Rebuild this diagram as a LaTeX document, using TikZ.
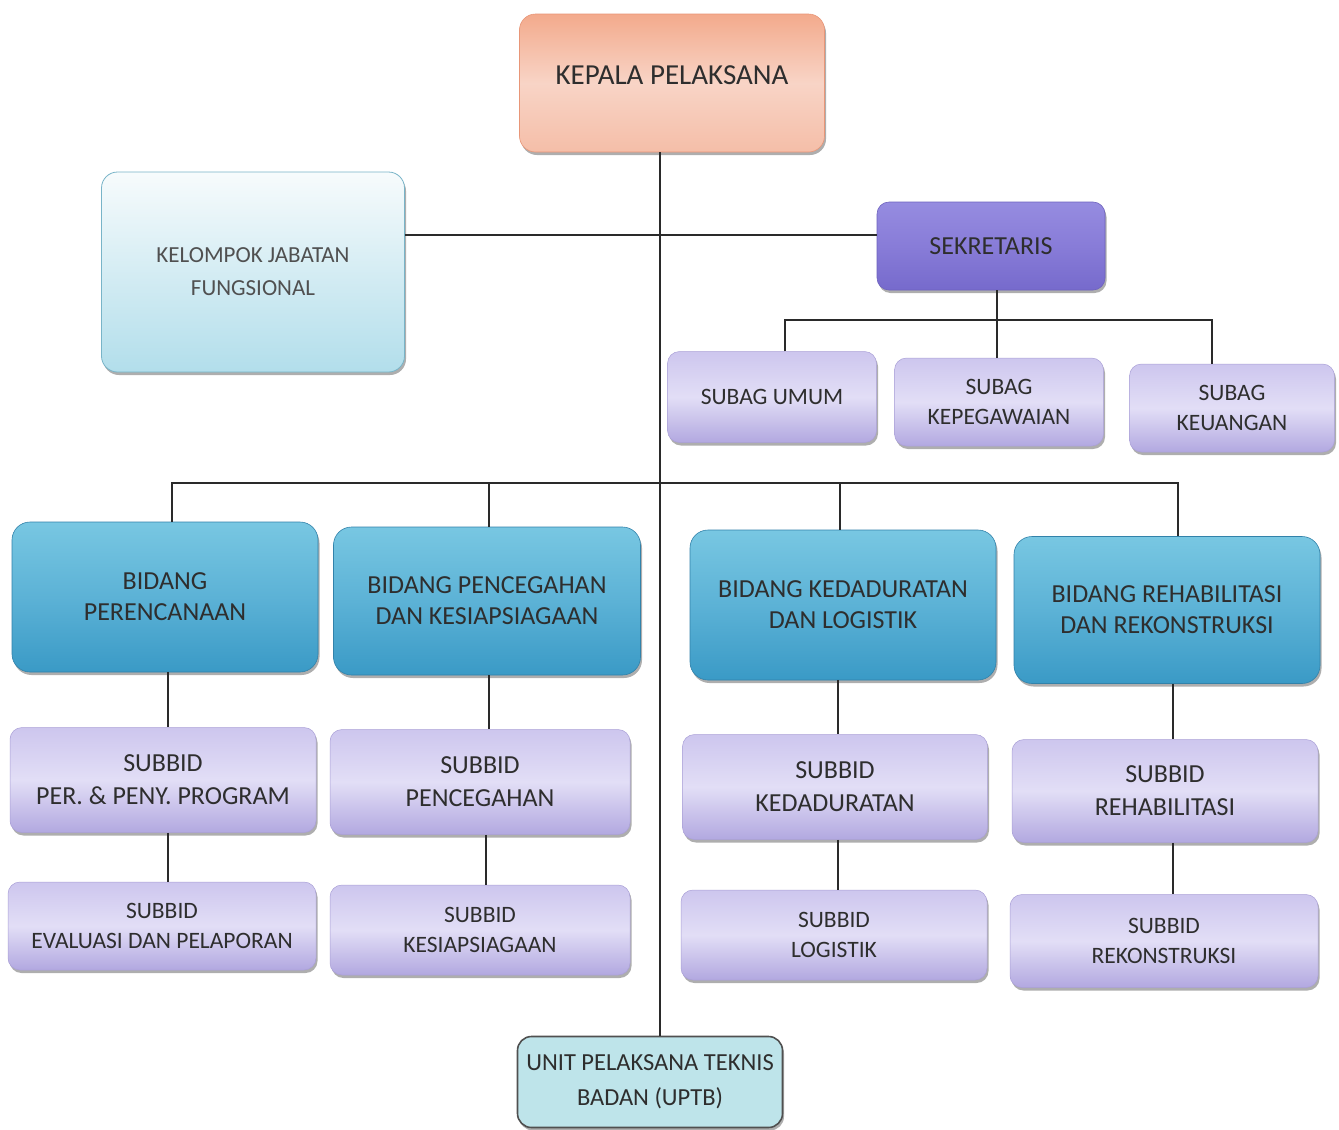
\documentclass[tikz,border=0pt]{standalone}
\usepackage{fontspec}
\setmainfont{Carlito}
\usetikzlibrary{shadows}
\definecolor{txt}{HTML}{2E2E2E}
\definecolor{ln}{HTML}{2A2A2A}
\tikzset{
  base/.style={rectangle, rounded corners=16pt, align=center, text=txt, inner sep=2pt,
    drop shadow={shadow xshift=1.5pt, shadow yshift=-3pt, opacity=0.45, fill=black!70}},
  kepbox/.style={base, top color={rgb,255:red,243;green,170;blue,140}, bottom color={rgb,255:red,245;green,190;blue,168},
    middle color={rgb,255:red,248;green,212;blue,198}, draw={rgb,255:red,232;green,150;blue,120}, line width=0.6pt},
  kjfbox/.style={base, top color={rgb,255:red,247;green,251;blue,252}, bottom color={rgb,255:red,178;green,222;blue,235},
    draw={rgb,255:red,120;green,180;blue,200}, line width=0.8pt, text={rgb,255:red,80;green,80;blue,80}},
  sekbox/.style={base, rounded corners=12pt, top color={rgb,255:red,150;green,140;blue,224}, bottom color={rgb,255:red,118;green,106;blue,204},
    middle color={rgb,255:red,136;green,124;blue,216}, draw={rgb,255:red,110;green,98;blue,190}, line width=0.6pt},
  lavbox/.style={base, rounded corners=12pt, top color={rgb,255:red,205;green,198;blue,238}, bottom color={rgb,255:red,178;green,168;blue,224},
    middle color={rgb,255:red,226;green,222;blue,246}, draw={rgb,255:red,170;green,160;blue,215}, line width=0.5pt},
  bidbox/.style={base, rounded corners=18pt, top color={rgb,255:red,120;green,199;blue,226}, bottom color={rgb,255:red,58;green,154;blue,198},
    middle color={rgb,255:red,92;green,178;blue,214}, draw={rgb,255:red,50;green,130;blue,170}, line width=0.6pt},
  uptbbox/.style={base, rounded corners=14pt, fill={rgb,255:red,190;green,228;blue,234}, draw={rgb,255:red,80;green,80;blue,80}, line width=1.6pt},
  conn/.style={draw=ln, line width=1.7pt},
}
\begin{document}
\begin{tikzpicture}[x=1pt,y=-1pt]
\useasboundingbox[fill=white] (0,0) rectangle (1339,1130);
% top level
\node[kepbox, minimum width=305pt, minimum height=138pt, font=\fontsize{29}{33}\selectfont] (kp) at (672,83) {\raisebox{8pt}[\height][\depth]{KEPALA PELAKSANA}};
\node[kjfbox, minimum width=303pt, minimum height=200pt, font=\fontsize{23}{33}\selectfont] (kjf) at (253,272) {KELOMPOK JABATAN\\FUNGSIONAL};
\node[sekbox, minimum width=228pt, minimum height=88pt, font=\fontsize{26}{30}\selectfont] (sek) at (991,246) {SEKRETARIS};
% subag
\node[lavbox, minimum width=209pt, minimum height=91pt, font=\fontsize{23.5}{30}\selectfont] (sua) at (772,397) {SUBAG UMUM};
\node[lavbox, minimum width=209pt, minimum height=88pt, font=\fontsize{23.5}{30}\selectfont] (sup) at (999,402) {SUBAG\\KEPEGAWAIAN};
\node[lavbox, minimum width=205pt, minimum height=88pt, font=\fontsize{23.5}{30}\selectfont] (suk) at (1232,408) {SUBAG\\KEUANGAN};
% bidang
\node[bidbox, minimum width=306pt, minimum height=150pt, font=\fontsize{26}{31}\selectfont] (bp) at (165,597) {BIDANG\\PERENCANAAN};
\node[bidbox, minimum width=307pt, minimum height=148pt, font=\fontsize{26}{31}\selectfont] (bk) at (487,601) {BIDANG PENCEGAHAN\\DAN KESIAPSIAGAAN};
\node[bidbox, minimum width=306pt, minimum height=150pt, font=\fontsize{26}{31}\selectfont] (bd) at (843,605) {BIDANG KEDADURATAN\\DAN LOGISTIK};
\node[bidbox, minimum width=306pt, minimum height=147pt, font=\fontsize{26}{31}\selectfont] (br) at (1167,610) {BIDANG REHABILITASI\\DAN REKONSTRUKSI};
% subbid row 1
\node[lavbox, minimum width=306pt, minimum height=105pt, font=\fontsize{26}{33}\selectfont] (p1) at (163,780) {SUBBID\\PER. \& PENY. PROGRAM};
\node[lavbox, minimum width=300pt, minimum height=105pt, font=\fontsize{26}{33}\selectfont] (k1) at (480,782) {SUBBID\\PENCEGAHAN};
\node[lavbox, minimum width=305pt, minimum height=105pt, font=\fontsize{26}{33}\selectfont] (d1) at (835,787) {SUBBID\\KEDADURATAN};
\node[lavbox, minimum width=306pt, minimum height=103pt, font=\fontsize{26}{33}\selectfont] (r1) at (1165,791) {SUBBID\\REHABILITASI};
% subbid row 2
\node[lavbox, minimum width=308pt, minimum height=88pt, font=\fontsize{23.5}{30}\selectfont] (p2) at (162,926) {SUBBID\\EVALUASI DAN PELAPORAN};
\node[lavbox, minimum width=300pt, minimum height=90pt, font=\fontsize{23.5}{30}\selectfont] (k2) at (480,930) {SUBBID\\KESIAPSIAGAAN};
\node[lavbox, minimum width=306pt, minimum height=90pt, font=\fontsize{23.5}{30}\selectfont] (d2) at (834,935) {SUBBID\\LOGISTIK};
\node[lavbox, minimum width=308pt, minimum height=93pt, font=\fontsize{23.5}{30}\selectfont] (r2) at (1164,941) {SUBBID\\REKONSTRUKSI};
% uptb
\node[uptbbox, minimum width=265pt, minimum height=91pt, font=\fontsize{24.5}{35}\selectfont] (uptb) at (650,1082) {UNIT PELAKSANA TEKNIS\\BADAN (UPTB)};
% coordinates
\coordinate (spine) at (660,0);
\coordinate (sbar) at (997,320);
\coordinate (bbar) at (660,483);
% connectors
\draw[conn] (kp.south -| spine) -- (uptb.north -| spine);
\draw[conn] ([yshift=11pt]sek.west -| kjf.east) -- ([yshift=11pt]sek.west);
\draw[conn] (sek.south -| sbar) -- (sup.north -| sbar);
\draw[conn] ([xshift=13pt]sua.north) |- (sbar) -| ([xshift=-20pt]suk.north);
\draw[conn] ([xshift=7pt]bp.north) |- (bbar) -| ([xshift=11pt]br.north);
\draw[conn] ([xshift=2pt]bk.north) -- ([xshift=2pt]bk.north |- bbar);
\draw[conn] ([xshift=-3pt]bd.north) -- ([xshift=-3pt]bd.north |- bbar);
\draw[conn] ([xshift=3pt]bp.south) -- ([xshift=3pt]bp.south |- p1.north);
\draw[conn] ([xshift=2pt]bk.south) -- ([xshift=2pt]bk.south |- k1.north);
\draw[conn] ([xshift=-5pt]bd.south) -- ([xshift=-5pt]bd.south |- d1.north);
\draw[conn] ([xshift=6pt]br.south) -- ([xshift=6pt]br.south |- r1.north);
\draw[conn] ([xshift=5pt]p1.south) -- ([xshift=5pt]p1.south |- p2.north);
\draw[conn] ([xshift=6pt]k1.south) -- ([xshift=6pt]k1.south |- k2.north);
\draw[conn] ([xshift=3pt]d1.south) -- ([xshift=3pt]d1.south |- d2.north);
\draw[conn] ([xshift=8pt]r1.south) -- ([xshift=8pt]r1.south |- r2.north);
\end{tikzpicture}
\end{document}
